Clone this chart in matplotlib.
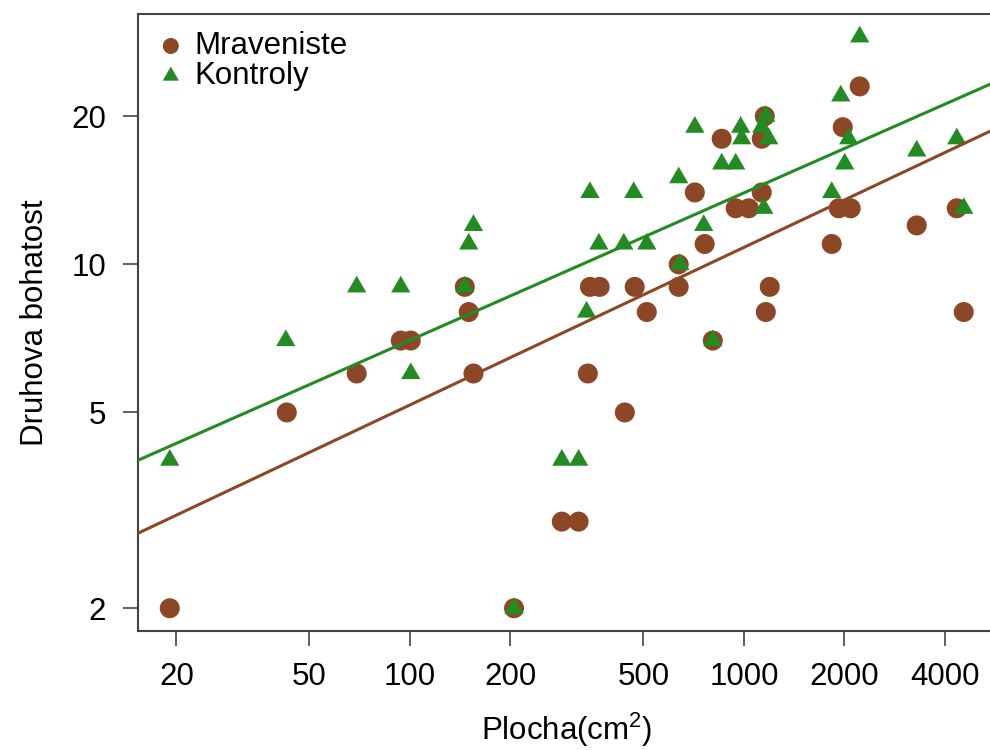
import matplotlib
matplotlib.use("Agg")
import matplotlib.pyplot as plt
import numpy as np

plt.rcParams["font.family"] = ["Liberation Sans", "DejaVu Sans"]
plt.rcParams["mathtext.fontset"] = "custom"
plt.rcParams["mathtext.rm"] = "Liberation Sans"

# plocha (cm2) a pocet druhu - mraveniste
plocha_mrav = [19.1, 42.8, 69.3, 93.9, 100.6, 146, 150, 155, 205, 285, 320, 341, 346, 370,
               440, 471, 512, 638, 638, 713, 763, 807, 858, 945, 1034, 1131, 1131, 1155,
               1163, 1195, 1832, 1923, 1977, 2088, 2222, 3292, 4338, 4552]
druhy_mrav = [2, 5, 6, 7, 7, 9, 8, 6, 2, 3, 3, 6, 9, 9,
              5, 9, 8, 9, 10, 14, 11, 7, 18, 13, 13, 18, 14, 20,
              8, 9, 11, 13, 19, 13, 23, 12, 13, 8]

# kontrolni plochy
plocha_kontr = [19.1, 42.5, 69.3, 93.9, 100.6, 146, 150, 155, 205, 285, 320, 338, 346, 368,
                437, 468, 512, 638, 643, 713, 758, 807, 858, 945, 978, 985, 1131, 1147,
                1163, 1187, 1832, 1950, 2004, 2060, 2222, 3292, 4338, 4552]
druhy_kontr = [4, 7, 9, 9, 6, 9, 11, 12, 2, 4, 4, 8, 14, 11,
               11, 14, 11, 15, 10, 19, 12, 7, 16, 16, 19, 18, 19, 13,
               20, 18, 14, 22, 16, 18, 29, 17, 18, 13]

# koeficienty modelu log10(druhy) = a + b*log10(plocha)
model_mrav = (0.0736, 0.3203)
model_kontr = (0.2465, 0.2996)

x_ticks = [20, 50, 100, 200, 500, 1000, 2000, 4000]
y_ticks = [2, 5, 10, 20]

HNEDA = "#8B4726"
ZELENA = "#228B22"
FS = 22.5

# rovnostranny trojuhelnik se stredem v teziste (jako pch=17)
trojuhelnik = [(0, 0.577), (-0.5, -0.289), (0.5, -0.289), (0, 0.577)]


def log_rozsah(*serie):
    v = np.log10(np.concatenate([np.asarray(s, float) for s in serie]))
    lo, hi = v.min(), v.max()
    d = 0.04 * (hi - lo)
    return lo - d, hi + d


lx0, lx1 = log_rozsah(plocha_mrav, plocha_kontr)
ly0, ly1 = log_rozsah(druhy_mrav, druhy_kontr)

# velikost jedne dekady v pixelech
px_dek_x, px_dek_y = 334.0, 492.0
W, H = 990, 750
left, top = 138, 14
w_px = (lx1 - lx0) * px_dek_x
h_px = (ly1 - ly0) * px_dek_y

fig = plt.figure(figsize=(W / 100, H / 100), dpi=100)
ax = fig.add_axes([left / W, 1 - (top + h_px) / H, w_px / W, h_px / H])

S_KRUH = 14.4 ** 2
S_TROJ = 16.0 ** 2
ax.scatter(plocha_mrav, druhy_mrav, s=S_KRUH, marker="o", color=HNEDA,
           edgecolors="none", zorder=2)
ax.scatter(plocha_kontr, druhy_kontr, s=S_TROJ, marker=trojuhelnik,
           color=ZELENA, edgecolors="none", zorder=3)

# regresni primky v log-log
lxx = np.array([lx0, lx1])
for (a, b), col in [(model_mrav, HNEDA), (model_kontr, ZELENA)]:
    ax.plot(10 ** lxx, 10 ** (a + b * lxx), color=col, lw=2.2, zorder=4)

ax.set_xscale("log")
ax.set_yscale("log")
ax.set_xlim(10 ** lx0, 10 ** lx1)
ax.set_ylim(10 ** ly0, 10 ** ly1)
ax.set_xticks(x_ticks)
ax.set_xticklabels([str(t) for t in x_ticks])
ax.set_yticks(y_ticks)
ax.set_yticklabels([str(t) for t in y_ticks])
ax.minorticks_off()
ax.tick_params(axis="both", direction="out", length=11, width=1.2, color="#444444",
               labelsize=FS)
ax.tick_params(axis="x", pad=11)
ax.tick_params(axis="y", pad=12)

for sp in ax.spines.values():
    sp.set_color("#444444")
    sp.set_linewidth(1.5)

ax.set_xlabel("Plocha(cm$^{\\mathregular{2}}$)", fontsize=FS, labelpad=14)
ax.set_ylabel("Druhova bohatost", fontsize=FS, labelpad=15)

h1 = ax.scatter([], [], s=11.5 ** 2, marker="o", color=HNEDA, edgecolors="none")
h2 = ax.scatter([], [], s=13.5 ** 2, marker=trojuhelnik, color=ZELENA,
                edgecolors="none")
ax.legend([h1, h2], ["Mraveniste", "Kontroly"], loc="upper left", frameon=False,
          fontsize=FS, handletextpad=0.25, labelspacing=0.0, borderaxespad=0.25,
          handlelength=1.0, borderpad=0.3)

fig.savefig("out.png", dpi=100)
